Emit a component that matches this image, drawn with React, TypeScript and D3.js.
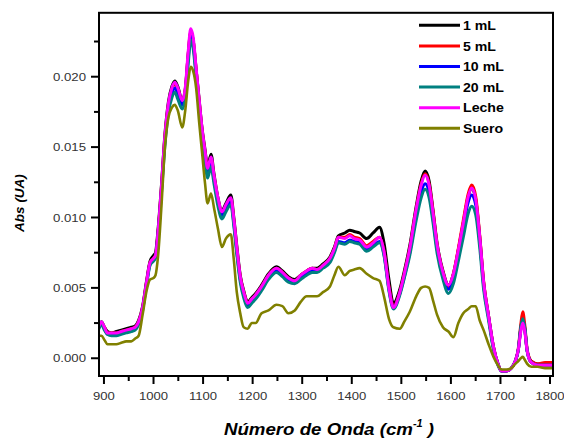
import React from 'react';
import * as d3 from 'd3';

const wavenumbers = [
  890, 895, 901, 907, 915, 925, 935, 945, 955, 963,
  970, 978, 986, 993, 1000, 1004, 1009, 1016, 1023, 1030,
  1037, 1043, 1049, 1058, 1064, 1070, 1075, 1080, 1086, 1092,
  1098, 1104, 1109, 1116, 1122, 1130, 1138, 1146, 1156, 1162,
  1168, 1175, 1182, 1190, 1198, 1206, 1218, 1232, 1248, 1260,
  1272, 1285, 1297, 1309, 1320, 1330, 1342, 1356, 1365, 1373,
  1386, 1396, 1405, 1416, 1430, 1443, 1456, 1465, 1475, 1484,
  1497, 1506, 1517, 1530, 1540, 1548, 1556, 1564, 1572, 1584,
  1595, 1605, 1615, 1625, 1635, 1642, 1650, 1658, 1666, 1676,
  1686, 1695, 1702, 1712, 1722, 1730, 1736, 1741, 1745, 1749,
  1754, 1762, 1775, 1790, 1806,
];

const abs1mL = [
  0.0023, 0.0026, 0.0022, 0.0019, 0.0018, 0.0019, 0.0020, 0.0021, 0.0022, 0.0023,
  0.0027, 0.0037, 0.0055, 0.0069, 0.0073, 0.0075, 0.0091, 0.0123, 0.0159, 0.0182,
  0.0193, 0.0197, 0.0193, 0.0183, 0.0191, 0.0216, 0.0231, 0.0226, 0.0205, 0.0184,
  0.0163, 0.0148, 0.0136, 0.0145, 0.0131, 0.0114, 0.0105, 0.0110, 0.0116, 0.0100,
  0.0080, 0.0059, 0.0048, 0.0040, 0.0043, 0.0046, 0.0052, 0.0060, 0.0065, 0.0062,
  0.0058, 0.0056, 0.0059, 0.0062, 0.0064, 0.0064, 0.0067, 0.0072, 0.0079, 0.0087,
  0.0089, 0.0091, 0.0090, 0.0089, 0.0085, 0.0089, 0.0093, 0.0082, 0.0056, 0.0039,
  0.0049, 0.0062, 0.0080, 0.0108, 0.0126, 0.0133, 0.0126, 0.0105, 0.0082, 0.0062,
  0.0052, 0.0060, 0.0077, 0.0096, 0.0115, 0.0121, 0.0113, 0.0087, 0.0054, 0.0030,
  0.0008, -0.0004, -0.0009, -0.0009, -0.0007, -0.0002, 0.0006, 0.0021, 0.0029, 0.0021,
  0.0005, -0.0002, -0.0004, -0.0004, -0.0003,
];

const abs5mL = [
  0.0023, 0.0025, 0.0022, 0.0018, 0.0018, 0.0018, 0.0019, 0.0020, 0.0021, 0.0022,
  0.0026, 0.0036, 0.0054, 0.0068, 0.0071, 0.0073, 0.0089, 0.0121, 0.0157, 0.0180,
  0.0191, 0.0195, 0.0191, 0.0182, 0.0190, 0.0216, 0.0232, 0.0226, 0.0205, 0.0183,
  0.0162, 0.0146, 0.0134, 0.0142, 0.0129, 0.0113, 0.0103, 0.0108, 0.0113, 0.0098,
  0.0078, 0.0058, 0.0047, 0.0039, 0.0042, 0.0045, 0.0051, 0.0059, 0.0064, 0.0061,
  0.0057, 0.0055, 0.0059, 0.0062, 0.0064, 0.0063, 0.0066, 0.0071, 0.0078, 0.0086,
  0.0086, 0.0088, 0.0086, 0.0085, 0.0080, 0.0083, 0.0086, 0.0076, 0.0051, 0.0037,
  0.0047, 0.0060, 0.0078, 0.0106, 0.0124, 0.0131, 0.0124, 0.0104, 0.0081, 0.0061,
  0.0051, 0.0060, 0.0078, 0.0098, 0.0117, 0.0123, 0.0115, 0.0088, 0.0055, 0.0030,
  0.0008, -0.0004, -0.0009, -0.0009, -0.0007, -0.0002, 0.0007, 0.0024, 0.0033, 0.0024,
  0.0006, -0.0002, -0.0004, -0.0003, -0.0003,
];

const abs10mL = [
  0.0022, 0.0025, 0.0021, 0.0017, 0.0017, 0.0017, 0.0018, 0.0019, 0.0020, 0.0021,
  0.0025, 0.0035, 0.0053, 0.0067, 0.0070, 0.0072, 0.0088, 0.0119, 0.0154, 0.0177,
  0.0188, 0.0192, 0.0188, 0.0180, 0.0188, 0.0213, 0.0229, 0.0223, 0.0202, 0.0180,
  0.0159, 0.0143, 0.0131, 0.0139, 0.0127, 0.0111, 0.0101, 0.0106, 0.0111, 0.0096,
  0.0076, 0.0056, 0.0045, 0.0037, 0.0040, 0.0043, 0.0049, 0.0057, 0.0062, 0.0059,
  0.0055, 0.0054, 0.0057, 0.0060, 0.0062, 0.0062, 0.0065, 0.0069, 0.0076, 0.0083,
  0.0082, 0.0084, 0.0083, 0.0082, 0.0077, 0.0080, 0.0083, 0.0074, 0.0049, 0.0036,
  0.0046, 0.0058, 0.0075, 0.0101, 0.0118, 0.0124, 0.0118, 0.0099, 0.0078, 0.0059,
  0.0049, 0.0057, 0.0074, 0.0093, 0.0111, 0.0116, 0.0109, 0.0084, 0.0052, 0.0029,
  0.0007, -0.0004, -0.0009, -0.0009, -0.0007, -0.0002, 0.0006, 0.0021, 0.0027, 0.0021,
  0.0005, -0.0003, -0.0005, -0.0005, -0.0005,
];

const abs20mL = [
  0.0021, 0.0024, 0.0020, 0.0017, 0.0016, 0.0016, 0.0017, 0.0018, 0.0019, 0.0020,
  0.0024, 0.0034, 0.0052, 0.0066, 0.0069, 0.0071, 0.0087, 0.0117, 0.0151, 0.0174,
  0.0185, 0.0189, 0.0184, 0.0177, 0.0185, 0.0209, 0.0226, 0.0220, 0.0199, 0.0177,
  0.0156, 0.0140, 0.0128, 0.0136, 0.0124, 0.0108, 0.0099, 0.0104, 0.0109, 0.0094,
  0.0074, 0.0054, 0.0043, 0.0036, 0.0039, 0.0042, 0.0048, 0.0056, 0.0061, 0.0058,
  0.0054, 0.0053, 0.0056, 0.0059, 0.0061, 0.0061, 0.0064, 0.0068, 0.0075, 0.0082,
  0.0081, 0.0083, 0.0082, 0.0081, 0.0076, 0.0079, 0.0082, 0.0073, 0.0048, 0.0035,
  0.0045, 0.0057, 0.0073, 0.0098, 0.0114, 0.0120, 0.0114, 0.0096, 0.0075, 0.0056,
  0.0046, 0.0053, 0.0069, 0.0086, 0.0103, 0.0108, 0.0102, 0.0079, 0.0049, 0.0027,
  0.0006, -0.0005, -0.0009, -0.0009, -0.0007, -0.0002, 0.0006, 0.0022, 0.0028, 0.0022,
  0.0005, -0.0003, -0.0005, -0.0005, -0.0005,
];

const absLeche = [
  0.0023, 0.0026, 0.0022, 0.0018, 0.0018, 0.0018, 0.0019, 0.0020, 0.0021, 0.0022,
  0.0026, 0.0036, 0.0054, 0.0068, 0.0071, 0.0073, 0.0089, 0.0122, 0.0158, 0.0181,
  0.0192, 0.0196, 0.0192, 0.0183, 0.0192, 0.0218, 0.0234, 0.0228, 0.0206, 0.0184,
  0.0163, 0.0147, 0.0135, 0.0143, 0.0130, 0.0114, 0.0104, 0.0109, 0.0114, 0.0099,
  0.0079, 0.0058, 0.0047, 0.0039, 0.0042, 0.0045, 0.0051, 0.0059, 0.0064, 0.0061,
  0.0057, 0.0055, 0.0059, 0.0062, 0.0064, 0.0063, 0.0066, 0.0071, 0.0078, 0.0086,
  0.0085, 0.0087, 0.0085, 0.0084, 0.0079, 0.0082, 0.0086, 0.0076, 0.0050, 0.0036,
  0.0047, 0.0060, 0.0078, 0.0106, 0.0123, 0.0130, 0.0123, 0.0103, 0.0081, 0.0061,
  0.0052, 0.0060, 0.0077, 0.0096, 0.0115, 0.0121, 0.0113, 0.0087, 0.0054, 0.0030,
  0.0008, -0.0004, -0.0009, -0.0009, -0.0007, -0.0002, 0.0006, 0.0019, 0.0025, 0.0019,
  0.0005, -0.0003, -0.0005, -0.0005, -0.0005,
];

const absSuero = [
  0.0016, 0.0016, 0.0013, 0.0010, 0.0010, 0.0010, 0.0011, 0.0012, 0.0012, 0.0014,
  0.0016, 0.0031, 0.0048, 0.0056, 0.0057, 0.0059, 0.0072, 0.0108, 0.0150, 0.0171,
  0.0178, 0.0180, 0.0176, 0.0164, 0.0176, 0.0197, 0.0207, 0.0204, 0.0192, 0.0168,
  0.0146, 0.0124, 0.0110, 0.0117, 0.0107, 0.0092, 0.0079, 0.0085, 0.0088, 0.0070,
  0.0047, 0.0032, 0.0022, 0.0021, 0.0025, 0.0025, 0.0032, 0.0034, 0.0038, 0.0037,
  0.0032, 0.0034, 0.0040, 0.0044, 0.0044, 0.0044, 0.0047, 0.0051, 0.0059, 0.0065,
  0.0059, 0.0062, 0.0063, 0.0064, 0.0060, 0.0057, 0.0055, 0.0044, 0.0028, 0.0022,
  0.0021, 0.0026, 0.0033, 0.0044, 0.0050, 0.0051, 0.0050, 0.0041, 0.0031, 0.0022,
  0.0019, 0.0015, 0.0025, 0.0032, 0.0035, 0.0037, 0.0037, 0.0027, 0.0020, 0.0010,
  0.0001, -0.0005, -0.0008, -0.0008, -0.0007, -0.0004, -0.0002, 0.0000, 0.0001, -0.0001,
  -0.0004, -0.0006, -0.0006, -0.0007, -0.0007,
];

const seriesLabels = ['1 mL', '5 mL', '10 mL', '20 mL', 'Leche', 'Suero'];
const seriesColors = ['#000000', '#ff0000', '#0000ff', '#008080', '#ff00ff', '#808000'];
const seriesValues = [abs1mL, abs5mL, abs10mL, abs20mL, absLeche, absSuero];

const xMajorTicks = [900, 1000, 1100, 1200, 1300, 1400, 1500, 1600, 1700, 1800];
const xMinorTicks = [950, 1050, 1150, 1250, 1350, 1450, 1550, 1650, 1750];
const yMajorTicks = [0, 0.005, 0.01, 0.015, 0.02];
const yMinorTicks = [0.0025, 0.0075, 0.0125, 0.0175, 0.0225];

export default function App() {
  const W = 564;
  const H = 439;
  const left = 99;
  const right = 553;
  const top = 12.8;
  const bottom = 376;

  const x = d3.scaleLinear().domain([890, 1806]).range([left, right]);
  const y = d3.scaleLinear().domain([-0.00126, 0.02454]).range([bottom, top]);

  const lineGen = d3
    .line<number>()
    .x((_d, i) => x(wavenumbers[i]))
    .y((d) => y(d))
    .curve(d3.curveMonotoneX);

  const font = "Arial, 'Liberation Sans', sans-serif";
  const fmt = d3.format('.3f');

  return (
    <svg
      width={W}
      height={H}
      style={{ position: 'absolute', left: 0, top: 0, background: '#fff' }}
      fontFamily={font}
    >
      <defs>
        <clipPath id="plotClip">
          <rect x={left} y={top} width={right - left} height={bottom - top} />
        </clipPath>
      </defs>
      <rect x={0} y={0} width={W} height={H} fill="#fff" />

      <g clipPath="url(#plotClip)">
        {seriesValues.map((vals, k) => (
          <path
            key={seriesLabels[k]}
            d={lineGen(vals) || ''}
            fill="none"
            stroke={seriesColors[k]}
            strokeWidth={k === 5 ? 2.6 : 3}
            strokeLinejoin="round"
            strokeLinecap="round"
          />
        ))}
      </g>

      {/* frame */}
      <rect
        x={left}
        y={top}
        width={right - left}
        height={bottom - top}
        fill="none"
        stroke="#000"
        strokeWidth={2}
      />

      {/* x ticks */}
      {xMajorTicks.map((t) => (
        <g key={'xt' + t}>
          <line x1={x(t)} x2={x(t)} y1={bottom} y2={bottom + 8} stroke="#000" strokeWidth={2} />
          <text
            transform={`translate(${x(t)},400) scale(1.11,1)`}
            textAnchor="middle"
            fontSize={11.8}
            fill="#333"
          >
            {t}
          </text>
        </g>
      ))}
      {xMinorTicks.map((t) => (
        <line key={'xm' + t} x1={x(t)} x2={x(t)} y1={bottom} y2={bottom + 5} stroke="#000" strokeWidth={2} />
      ))}

      {/* y ticks */}
      {yMajorTicks.map((t) => (
        <g key={'yt' + t}>
          <line x1={left} x2={left - 8} y1={y(t)} y2={y(t)} stroke="#000" strokeWidth={2} />
          <text
            transform={`translate(86,${y(t) + 4.2}) scale(1.12,1)`}
            textAnchor="end"
            fontSize={11.8}
            fill="#333"
          >
            {fmt(t)}
          </text>
        </g>
      ))}
      {yMinorTicks.map((t) => (
        <line key={'ym' + t} x1={left} x2={left - 5} y1={y(t)} y2={y(t)} stroke="#000" strokeWidth={2} />
      ))}

      {/* axis titles */}
      <text
        transform="translate(23.5,203) rotate(-90)"
        textAnchor="middle"
        fontSize={13.5}
        fontWeight="bold"
        fontStyle="italic"
        fill="#000"
      >
        Abs (UA)
      </text>
      <text
        transform="translate(329,435) scale(1.1,1)"
        textAnchor="middle"
        fontSize={17}
        fontWeight="bold"
        fontStyle="italic"
        fill="#000"
      >
        Número de Onda (cm
        <tspan fontSize={10} dy={-8}>-1</tspan>
        <tspan dy={8}> )</tspan>
      </text>

      {/* legend */}
      {seriesLabels.map((lab, k) => {
        const ly = 25.3 + k * 20.6;
        return (
          <g key={'lg' + lab}>
            <line x1={419} x2={460} y1={ly} y2={ly} stroke={seriesColors[k]} strokeWidth={3} />
            <text
              transform={`translate(463,${ly + 4.6}) scale(1.18,1)`}
              fontSize={12}
              fontWeight="bold"
              fill="#000"
            >
              {lab}
            </text>
          </g>
        );
      })}
    </svg>
  );
}
